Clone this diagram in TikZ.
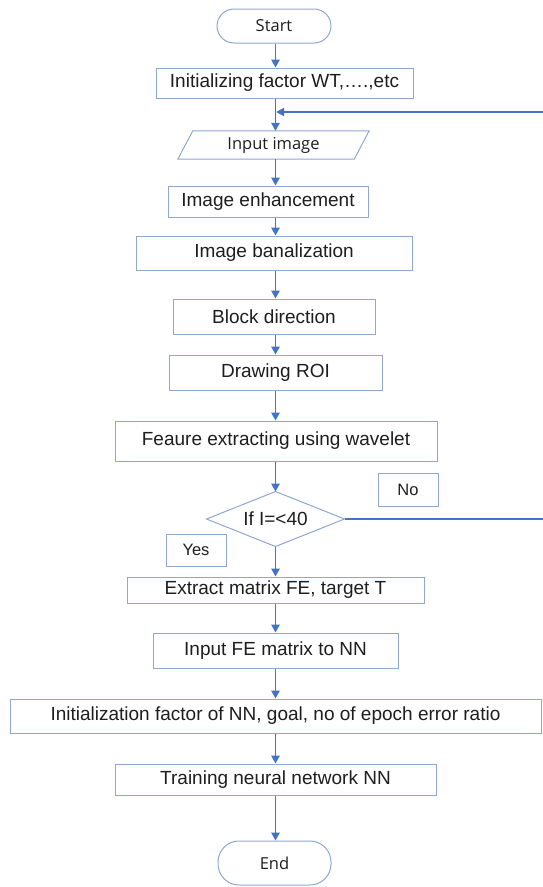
\documentclass[tikz,border=0pt]{standalone}
\usepackage{fontspec}
\setmainfont{Liberation Sans}
\newfontfamily\segoe{Open Sans}
\usetikzlibrary{arrows.meta}
\definecolor{boxline}{RGB}{143,168,210}
\definecolor{arrline}{RGB}{68,114,196}
\definecolor{txt}{RGB}{30,30,30}
\begin{document}
\begin{tikzpicture}[x=1pt,y=-1pt,
  box/.style={draw=boxline,line width=1pt,rectangle,inner sep=0pt,text=txt,font=\fontsize{19}{22}\selectfont},
  term/.style={draw=boxline,line width=1pt,rectangle,rounded corners=17pt,inner sep=0pt,text=txt,font=\segoe\fontsize{16.5}{19}\selectfont},
  lbl/.style={draw=boxline,line width=1pt,rectangle,inner sep=0pt,text=txt,font=\fontsize{16.5}{19}\selectfont},
  shp/.style={draw=boxline,line width=1pt},
  arr/.style={draw=arrline,line width=1.4pt,-{Triangle[width=8.5pt,length=8pt]}},
  lin/.style={draw=arrline,line width=1.4pt}]
\useasboundingbox (0,0) rectangle (543,887);
\fill[white] (0,0) rectangle (543,887);
\coordinate (ax) at (275.5,0);
\node[term,minimum width=114pt,minimum height=34pt] (start) at (274,26) {Start};
\node[box,minimum width=257pt,minimum height=30pt] (init) at (284.5,83) {Initializing factor WT,\dots.,etc};
\node[minimum width=176pt,minimum height=28pt,inner sep=0pt,text=txt,font=\segoe\fontsize{16.5}{19}\selectfont] (inp) at (273.5,145) {Input image};
\draw[shp] ([xshift=-7.5pt]inp.south west) -- ([xshift=7.5pt]inp.north west) -- ([xshift=7.5pt]inp.north east) -- ([xshift=-7.5pt]inp.south east) -- cycle;
\node[box,minimum width=200pt,minimum height=31pt] (enh) at (268,201.5) {Image enhancement};
\node[box,minimum width=276pt,minimum height=34pt] (ban) at (274,253) {Image banalization};
\node[box,minimum width=202pt,minimum height=35pt] (blk) at (274,316.5) {Block direction};
\node[box,minimum width=213pt,minimum height=35pt] (roi) at (275.5,372.5) {Drawing ROI};
\node[box,minimum width=322pt,minimum height=40pt] (fea) at (276,441) {Feaure extracting using wavelet};
\node[box,draw=none,minimum width=137pt,minimum height=54pt] (dec) at (275.5,519) {If I=<40};
\draw[shp] (dec.north) -- (dec.east) -- (dec.south) -- (dec.west) -- cycle;
\node[lbl,minimum width=60pt,minimum height=33pt] (no) at (408,489.5) {No};
\node[lbl,minimum width=60pt,minimum height=32pt] (yes) at (196,550) {Yes};
\node[box,minimum width=297pt,minimum height=26pt] (ext) at (275.5,590) {Extract matrix FE, target T};
\node[box,minimum width=245pt,minimum height=35pt] (ife) at (275.5,650.5) {Input FE matrix to NN};
\node[box,minimum width=531pt,minimum height=34pt] (inn) at (275.5,716) {Initialization factor of NN, goal, no of epoch error ratio};
\node[box,minimum width=321pt,minimum height=31pt] (trn) at (275.5,779.5) {Training neural network NN};
\node[term,rounded corners=21pt,minimum width=113pt,minimum height=44pt] (end) at (274.5,863) {End};
\coordinate (loopR) at (544.5,519);
\coordinate (loopT) at (544.5,112);
\coordinate (join) at (275.5,112);
\draw[arr] (start.south -| ax) -- (init.north -| ax);
\draw[arr] (init.south -| ax) -- (inp.north -| ax);
\draw[arr] (inp.south -| ax) -- (enh.north -| ax);
\draw[arr] (enh.south -| ax) -- (ban.north -| ax);
\draw[arr] (ban.south -| ax) -- (blk.north -| ax);
\draw[arr] (blk.south -| ax) -- (roi.north -| ax);
\draw[arr] (roi.south -| ax) -- (fea.north -| ax);
\draw[arr] (fea.south -| ax) -- (dec.north);
\draw[arr] (dec.south) -- (ext.north -| ax);
\draw[arr] (ext.south -| ax) -- (ife.north -| ax);
\draw[arr] (ife.south -| ax) -- (inn.north -| ax);
\draw[arr] (inn.south -| ax) -- (trn.north -| ax);
\draw[arr] (trn.south -| ax) -- (end.north -| ax);
\draw[lin] (dec.east) -- (loopR) -- (loopT);
\draw[arr] (loopT) -- ([xshift=0.7pt]join);
\end{tikzpicture}
\end{document}
